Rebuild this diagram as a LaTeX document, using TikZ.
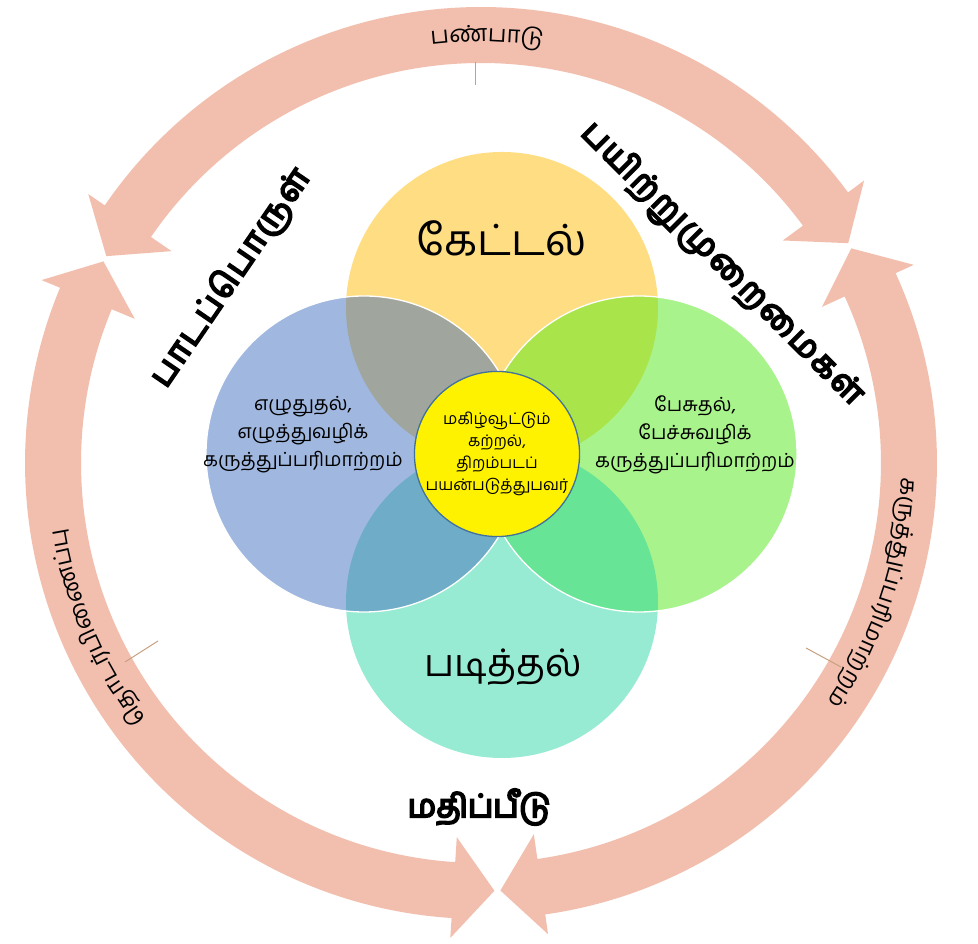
\documentclass[tikz,border=0pt]{standalone}
\usepackage{fontspec}
\newfontfamily\tamil[Script=Tamil]{Hind Madurai}
\newfontfamily\tamilbf[Script=Tamil,FakeBold=6]{Hind Madurai}
\newfontfamily\tamilbfsp[Script=Tamil,FakeBold=6,LetterSpace=6]{Hind Madurai}
\usetikzlibrary{calc}
\definecolor{ringc}{RGB}{242,191,174}
\definecolor{tickc}{RGB}{200,160,128}
\definecolor{ctop}{RGB}{255,221,130}
\definecolor{cbot}{RGB}{150,235,210}
\definecolor{cleft}{RGB}{160,184,224}
\definecolor{cright}{RGB}{168,243,140}
\definecolor{ctl}{RGB}{160,166,158}
\definecolor{ctr}{RGB}{170,228,75}
\definecolor{cbl}{RGB}{110,172,200}
\definecolor{cbr}{RGB}{104,228,150}
\definecolor{cborder}{RGB}{65,113,156}
\newlength\cwid
\newlength\totw
\newcommand\arcfnt{\tamil\fontsize{23.5}{25}\selectfont}
% measure clusters in the preamble: #1 name, #2 list
\newcommand\prepArc[2]{%
  \global\totw=0pt
  \foreach \cl [count=\ci] in {#2}{%
    \settowidth{\cwid}{\arcfnt\cl}%
    \expandafter\xdef\csname aw#1\ci\endcsname{\the\cwid}%
    \global\advance\totw by\cwid
  }%
  \expandafter\xdef\csname at#1\endcsname{\the\totw}%
}
\prepArc{top}{ப,ண்,பா,டு}
\prepArc{rgt}{க,ரு,த்,து,ப்,ப,ரி,மா,ற்,ற,ம்}
\prepArc{lft}{தொ,ட,ர்,பி,ணை,ப்,பு}
% #1 name, #2 mid angle, #3 baseline radius, #4 list
\newcommand\arctext[4]{%
  \pgfmathsetmacro\startang{#2 + (\csname at#1\endcsname/2)/(#3)*180/pi}%
  \gdef\accw{0}%
  \foreach \cl [count=\ci] in {#4}{%
    \edef\thisw{\csname aw#1\ci\endcsname}%
    \pgfmathsetmacro\arcang{\startang - (\accw + \thisw/2)/(#3)*180/pi}%
    \node[rotate=\arcang-90, anchor=base, inner sep=0pt, outer sep=0pt] (#1\ci) at ($(C)+(\arcang:#3)$) {\arcfnt\cl};
    \pgfmathsetmacro\newacc{\accw+\thisw}%
    \xdef\accw{\newacc}%
  }%
}
\def\Ri{400}\def\Ro{456}\def\Rc{428}\def\Rbi{375}\def\Rbo{476}\def\hl{5.5}\def\gp{0.4}
% #1 start angle (larger), #2 end angle (smaller)
\newcommand\ringarrow[2]{%
  \pgfmathsetmacro\ta{#1-\gp}\pgfmathsetmacro\ha{#1-\gp-\hl}%
  \pgfmathsetmacro\tb{#2+\gp}\pgfmathsetmacro\hb{#2+\gp+\hl}%
  \fill[ringc] ($(C)+(\ta:\Rc)$) -- ($(C)+(\ha:\Rbo)$) -- ($(C)+(\ha:\Ro)$)
    arc[start angle=\ha, end angle=\hb, radius=\Ro]
    -- ($(C)+(\hb:\Rbo)$) -- ($(C)+(\tb:\Rc)$) -- ($(C)+(\hb:\Rbi)$) -- ($(C)+(\hb:\Ri)$)
    arc[start angle=\hb, end angle=\ha, radius=\Ri]
    -- ($(C)+(\ha:\Rbi)$) -- cycle;
}
\begin{document}
\begin{tikzpicture}[x=1pt,y=1pt,
  blobtxt/.style={align=center, font=\tamil\fontsize{19.5}{28}\selectfont, inner sep=0pt},
  bigtxt/.style={inner sep=0pt},
  headtxt/.style={font=\tamilbfsp\fontsize{33}{38}\selectfont, inner sep=0pt},
  tickline/.style={draw=tickc, line width=1pt}]
\useasboundingbox (0,0) rectangle (978,944);
\fill[white] (0,0) rectangle (978,944);
\coordinate (C) at (481,481);
% ring arrows
\ringarrow{151.5}{30.5}
\ringarrow{30.5}{-87.8}
\ringarrow{272.2}{151.5}
% tick lines
\coordinate (t1a) at (475,882); \coordinate (t1b) at (475,859);
\coordinate (t2a) at (125,282); \coordinate (t2b) at (158,303);
\coordinate (t3a) at (806,296); \coordinate (t3b) at (841,277);
\draw[tickline] (t1a) -- (t1b);
\draw[tickline] (t2a) -- (t2b);
\draw[tickline] (t3a) -- (t3b);
% circles
\coordinate (Kt) at (502,636);
\coordinate (Kb) at (502,342);
\coordinate (Kl) at (364,490);
\coordinate (Kr) at (639,490);
\fill[ctop] (Kt) circle[radius=156];
\fill[cbot] (Kb) circle[radius=156];
\fill[cleft] (Kl) circle[radius=158];
\fill[cright] (Kr) circle[radius=158];
\begin{scope}\clip (Kt) circle[radius=156]; \fill[ctl] (Kl) circle[radius=158];\end{scope}
\begin{scope}\clip (Kt) circle[radius=156]; \fill[ctr] (Kr) circle[radius=158];\end{scope}
\begin{scope}\clip (Kb) circle[radius=156]; \fill[cbl] (Kl) circle[radius=158];\end{scope}
\begin{scope}\clip (Kb) circle[radius=156]; \fill[cbr] (Kr) circle[radius=158];\end{scope}
\draw[white, line width=1.3pt] (Kl) circle[radius=158];
\draw[white, line width=1.3pt] (Kr) circle[radius=158];
% centre
\node[circle, draw=cborder, line width=1.3pt, fill=yellow, minimum size=161pt, inner sep=0pt,
  align=center, font=\tamil\fontsize{16}{22}\selectfont] (centre) at (497,490)
  {மகிழ்வூட்டும்\\கற்றல்,\\திறம்படப்\\பயன்படுத்துபவர்};
% circle labels
\node[bigtxt, font=\tamil\fontsize{43}{46}\selectfont] (listen) at (502,706) {கேட்டல்};
\node[bigtxt, font=\tamil\fontsize{38}{42}\selectfont] (read) at (503,277) {படித்தல்};
\node[blobtxt] (write) at (303,509) {எழுதுதல்,\\எழுத்துவழிக்\\கருத்துப்பரிமாற்றம்};
\node[blobtxt] (speak) at (695,509) {பேசுதல்,\\பேச்சுவழிக்\\கருத்துப்பரிமாற்றம்};
% headings
\node[headtxt, rotate=55.6] (content) at (231,666) {பாடப்பொருள்};
\node[headtxt, rotate=-45] (method) at (721,679) {பயிற்றுமுறைமைகள்};
\node[font=\tamilbf\fontsize{32}{36}\selectfont, inner sep=0pt] (assess) at (479,137) {மதிப்பீடு};
% ring texts
\arctext{top}{89.2}{421}{ப,ண்,பா,டு}
\arctext{rgt}{-18.3}{421}{க,ரு,த்,து,ப்,ப,ரி,மா,ற்,ற,ம்}
\arctext{lft}{203.2}{421}{தொ,ட,ர்,பி,ணை,ப்,பு}
\end{tikzpicture}
\end{document}
